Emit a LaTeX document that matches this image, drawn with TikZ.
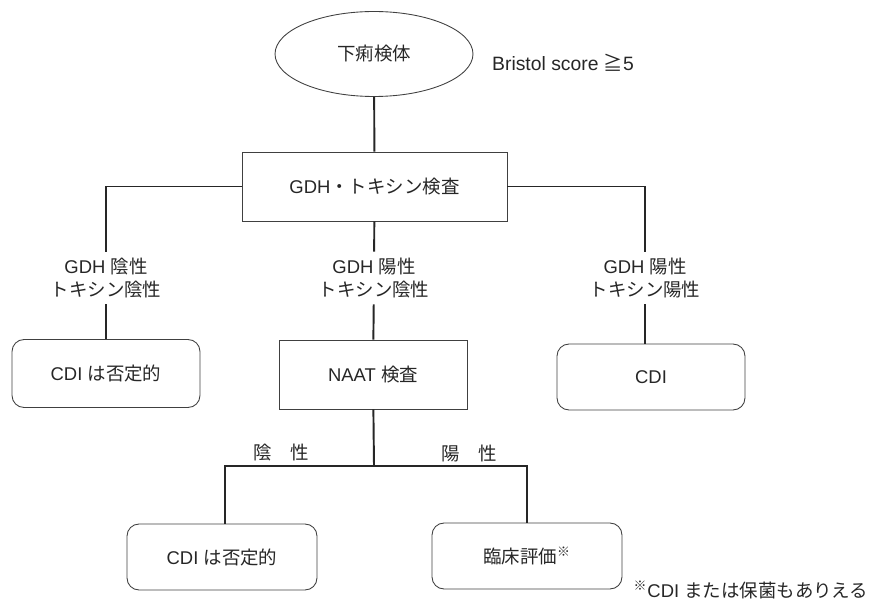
\documentclass[tikz,border=0pt]{standalone}
\usepackage{fontspec}
\setmainfont{Liberation Sans}
\newfontfamily\jp{Noto Sans CJK JP}
\usetikzlibrary{shapes.geometric}

\begin{document}
\begin{tikzpicture}[x=0.02cm, y=-0.02cm,
    font=\fontsize{10.5}{13}\selectfont,
    every node/.style={text=black!85},
    frame/.style={draw=black!75, line width=0.5pt, minimum width=3.76cm, minimum height=1.36cm},
    result/.style={frame, rounded corners=0.24cm},
    branch/.style={align=center, inner sep=0.12cm},
    link/.style={draw=black!85, line width=1.1pt}]
\useasboundingbox (0,0) rectangle (875,601);

\node[draw=black!75, line width=0.5pt, ellipse, minimum width=3.96cm, minimum height=1.7cm] (specimen) at (374,54) {\jp 下痢検体};
\node[anchor=west, font=\fontsize{11}{13}\selectfont] (bristol) at (486,63) {Bristol score {\jp ≧}5};
\node[frame, minimum width=5.3cm, minimum height=1.38cm] (gdh) at (374.5,186.5) {GDH{\jp ・トキシン検査}};

\node[branch] (negneg) at (106,278) {GDH {\jp 陰性}\\{\jp トキシン陰性}};
\node[branch] (posneg) at (374,278) {GDH {\jp 陽性}\\{\jp トキシン陰性}};
\node[branch] (pospos) at (645,278) {GDH {\jp 陽性}\\{\jp トキシン陽性}};

\node[result] (nocdi) at (106,373.5) {CDI {\jp は否定的}};
\node[frame, minimum height=1.38cm] (naat) at (373,374.5) {NAAT {\jp 検査}};
\node[result, minimum height=1.32cm] (cdi) at (651,377) {CDI};

\node (naatneg) at (281,453) {\jp 陰　性};
\node (naatpos) at (469,453) {\jp 陽　性};

\node[result, minimum width=3.8cm, minimum height=1.32cm] (nocdi2) at (222,557) {CDI {\jp は否定的}};
\node[result, minimum width=3.8cm, minimum height=1.32cm] (clinical) at (527,556) {{\jp 臨床評価}\textsuperscript{\jp ※}};
\node (note) at (751,590) {\textsuperscript{\jp ※}CDI {\jp または保菌もありえる}};

\coordinate (split) at (374,466);

\draw[link] (specimen) -- (gdh);
\draw[link] (gdh.west) -| (negneg.north);
\draw[link] (gdh.east) -| (pospos.north);
\draw[link] (gdh) -- (posneg);
\draw[link] (negneg) -- (nocdi);
\draw[link] (posneg) -- (naat);
\draw[link] (pospos.south) -- (pospos.south |- cdi.north);
\draw[link] (naat) -- (split);
\draw[link] ([xshift=0.06cm]nocdi2.north) |- (split) -| (clinical.north);

\end{tikzpicture}
\end{document}
